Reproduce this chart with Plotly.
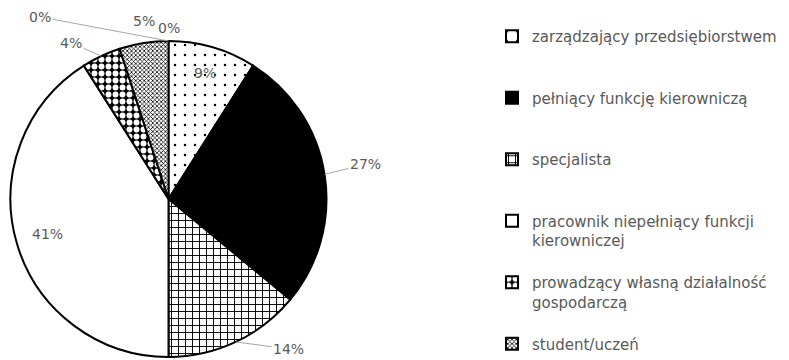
import math
import plotly.graph_objects as go

categories = ["zarządzający przedsiębiorstwem", "pełniący funkcję kierowniczą", "specjalista",
              "pracownik niepełniący funkcji<br>kierowniczej",
              "prowadzący własną działalność<br>gospodarczą", "student/uczeń"]
values = [9, 27, 14, 41, 4, 5]
zero_values = [0, 0]          # two further categories with 0% (not in legend)

GRAY = "#595959"
FS = 14
W, H = 789, 360

# ---- label styling (inside: radius fraction; outside: pixel offsets of text from the rim)
label_style = [
    dict(kind="in", r=0.83),
    dict(kind="out", ax=41, ay=-10, line=True),
    dict(kind="out", ax=53, ay=7, line=True),
    dict(kind="in", r=0.80),
    dict(kind="out", ax=-30, ay=-13, line=True),
    dict(kind="out", ax=0, ay=-22, line=False),
]
zero_style = [dict(ax=-128, ay=-24, line=True), dict(ax=1, ay=-13, line=False)]

# pad legend entries so that each occupies three text lines (even spacing)
LFS = 15
legend_names = []
for i, c in enumerate(categories):
    n = c.count("<br>") + 1
    pad = 0 if i == len(categories) - 1 else max(0, 3 - n)
    legend_names.append(c + "<br>\u00a0" * pad)

# pie geometry in pixels
PX0, PX1, PY0, PY1 = 10, 327, 41, 357
dom_x = [PX0 / W, PX1 / W]
dom_y = [1 - PY1 / H, 1 - PY0 / H]
CX, CY = (PX0 + PX1) / 2, (PY0 + PY1) / 2
R = min(PX1 - PX0, PY1 - PY0) / 2

fig = go.Figure()
fig.add_trace(go.Pie(
    labels=legend_names,
    values=values,
    sort=False,
    direction="clockwise",
    rotation=0,
    domain=dict(x=dom_x, y=dom_y),
    textinfo="none",
    marker=dict(
        colors=["white", "black", "white", "white", "black", "white"],
        line=dict(color="black", width=2),
        pattern=dict(
            shape=[".", "", "+", "", ".", "x"],
            fgcolor=["black", "black", "black", "black", "white", "black"],
            bgcolor=["white", "black", "white", "white", "black", "white"],
            size=[10, 8, 7, 8, 7, 3],
            solidity=[0.05, 0.5, 0.25, 0.5, 0.55, 0.45],
        ),
    ),
    hoverinfo="label+percent",
    showlegend=True,
))

total = sum(values) + sum(zero_values)
font = dict(color=GRAY, size=FS, family="DejaVu Sans")


def rim_point(frac, rr=1.0):
    ang = 2 * math.pi * frac
    return CX + rr * R * math.sin(ang), CY - rr * R * math.cos(ang)


cum = 0.0
for v, st in zip(values, label_style):
    mid = (cum + v / 2) / total
    cum += v
    txt = f"{v / total * 100:.0f}%"
    if st["kind"] == "in":
        px, py = rim_point(mid, st["r"])
        fig.add_annotation(x=px / W, y=1 - py / H, xref="paper", yref="paper",
                           xanchor="center", yanchor="middle",
                           text=txt, showarrow=False, font=font)
    else:
        px, py = rim_point(mid)
        fig.add_annotation(x=px / W, y=1 - py / H, xref="paper", yref="paper",
                           text=txt, showarrow=True, arrowhead=0, standoff=0,
                           arrowcolor="#a6a6a6" if st["line"] else "rgba(0,0,0,0)",
                           arrowwidth=1, ax=st["ax"], ay=st["ay"], font=font)

for v, st in zip(zero_values, zero_style):
    mid = (cum + v / 2) / total
    cum += v
    px, py = rim_point(mid)
    fig.add_annotation(x=px / W, y=1 - py / H, xref="paper", yref="paper",
                       text=f"{v / total * 100:.0f}%", showarrow=True, arrowhead=0,
                       arrowcolor="#a6a6a6" if st["line"] else "rgba(0,0,0,0)",
                       arrowwidth=1, ax=st["ax"], ay=st["ay"], font=font)

fig.update_layout(
    width=W, height=H,
    margin=dict(l=0, r=0, t=0, b=0),
    paper_bgcolor="white",
    plot_bgcolor="white",
    font=dict(family="DejaVu Sans", color=GRAY, size=FS),
    legend=dict(
        x=492 / W, y=1 - 20 / H, xanchor="left", yanchor="top",
        orientation="v", valign="top", itemwidth=30,
        font=dict(color=GRAY, size=LFS, family="DejaVu Sans"),
        bgcolor="rgba(0,0,0,0)", traceorder="normal",
        itemclick=False, itemdoubleclick=False,
    ),
)

fig.write_html("out.html")
